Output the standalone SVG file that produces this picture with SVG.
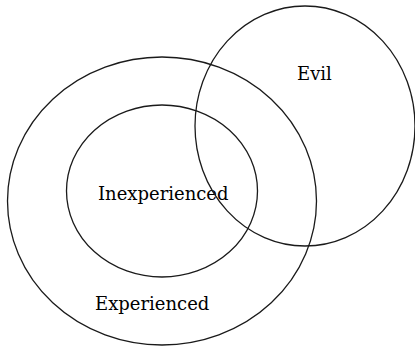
<svg xmlns="http://www.w3.org/2000/svg" width="415" height="347" viewBox="0 0 415 347">
<style>
.c{fill:none;stroke:#1a1a1a;stroke-width:1.3}
.t{font-family:"DejaVu Serif","Liberation Serif",serif;font-size:18px;fill:#000}
</style>
<rect width="415" height="347" fill="#fff"/>
<g id="experienced">
<ellipse class="c" cx="162" cy="201" rx="154.5" ry="144"/>
<text class="t" x="95" y="310">Experienced</text>
</g>
<g id="inexperienced">
<ellipse class="c" cx="162" cy="191" rx="95.5" ry="86"/>
<text class="t" x="98" y="200">Inexperienced</text>
</g>
<g id="evil">
<ellipse class="c" cx="305" cy="126" rx="110" ry="120"/>
<text class="t" x="297" y="80">Evil</text>
</g>
<g id="connectors"/>
</svg>
